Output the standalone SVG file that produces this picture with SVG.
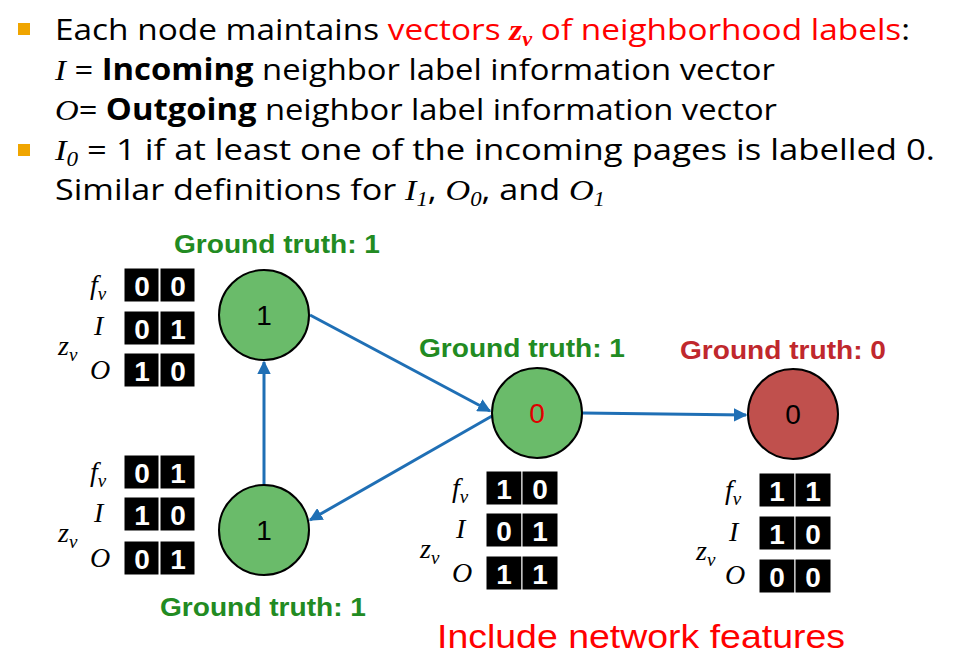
<svg xmlns="http://www.w3.org/2000/svg" width="953" height="661" viewBox="0 0 953 661">
<defs>
<marker id="ah" viewBox="0 0 10 10" refX="9" refY="5" markerWidth="4.5" markerHeight="4.5" orient="auto"><path d="M0,0 L10,5 L0,10 z" fill="#1f6fb5"/></marker>
<style>
.t{font-family:"Open Sans","Noto Sans",sans-serif;font-size:30px;fill:#000}
.m{font-family:"Liberation Serif",serif;font-style:italic}
.r{fill:#ff0000}
.gt{font-family:"Liberation Sans",Arial,sans-serif;font-weight:bold;font-size:26px}
.c{fill:#000;stroke:#fff;stroke-width:1}
.d{font-family:"Liberation Sans",Arial,sans-serif;font-weight:bold;font-size:28px;fill:#fff;text-anchor:middle}
.lb{font-family:"Liberation Serif",serif;font-style:italic;font-size:28px;fill:#000}
.n{stroke:#000;stroke-width:2}
.nl{font-family:"Liberation Sans",Arial,sans-serif;font-size:28px;text-anchor:middle}
.e{stroke:#1f6fb5;stroke-width:3;fill:none;marker-end:url(#ah)}
</style>
</defs>
<rect width="953" height="661" fill="#fff"/>
<g id="text">
<rect x="18" y="23" width="12" height="12" fill="#f0a500"/>
<rect x="18" y="144" width="12" height="12" fill="#f0a500"/>
<text class="t" x="55" y="40" textLength="855" lengthAdjust="spacingAndGlyphs">Each node maintains <tspan class="r">vectors </tspan><tspan class="r m" font-weight="bold">z<tspan font-size="20" dy="6">v</tspan></tspan><tspan class="r" dy="-6"> of neighborhood labels</tspan>:</text>
<text class="t" x="55" y="80" textLength="720" lengthAdjust="spacingAndGlyphs"><tspan class="m">I</tspan> = <tspan font-weight="bold">Incoming</tspan> neighbor label information vector</text>
<text class="t" x="55" y="120" textLength="722" lengthAdjust="spacingAndGlyphs"><tspan class="m">O</tspan>= <tspan font-weight="bold">Outgoing</tspan> neighbor label information vector</text>
<text class="t" x="55" y="160" textLength="880" lengthAdjust="spacingAndGlyphs"><tspan class="m">I<tspan font-size="20" dy="6">0</tspan></tspan><tspan dy="-6"> = 1 if at least one of the incoming pages is labelled 0.</tspan></text>
<text class="t" x="55" y="200" textLength="550" lengthAdjust="spacingAndGlyphs">Similar definitions for <tspan class="m">I<tspan font-size="20" dy="6">1</tspan></tspan><tspan dy="-6">, </tspan><tspan class="m">O<tspan font-size="20" dy="6">0</tspan></tspan><tspan dy="-6">, and </tspan><tspan class="m">O<tspan font-size="20" dy="6">1</tspan></tspan></text>
<text x="437" y="648" font-family="Liberation Sans,Arial,sans-serif" font-size="34" fill="#ff0000" textLength="408" lengthAdjust="spacingAndGlyphs">Include network features</text>
</g>
<g id="connectors">
<path class="e" d="M310,315 L490,411"/>
<path class="e" d="M264,486 L264,362"/>
<path class="e" d="M492,416 L310,520"/>
<path class="e" d="M582,413 L746,415"/>
</g>
<g id="n1">
<circle class="n" cx="264" cy="315" r="45" fill="#6abb6a"/><text class="nl" x="264" y="325">1</text>
<text class="gt" x="174" y="253" fill="#228b22" textLength="206" lengthAdjust="spacingAndGlyphs">Ground truth: 1</text>
<rect class="c" x="124" y="268" width="35" height="34"/><rect class="c" x="160" y="268" width="35" height="34"/>
<rect class="c" x="124" y="311" width="35" height="34"/><rect class="c" x="160" y="311" width="35" height="34"/>
<rect class="c" x="124" y="353" width="35" height="34"/><rect class="c" x="160" y="353" width="35" height="34"/>
<text class="d" x="142" y="296">0</text><text class="d" x="178" y="296">0</text>
<text class="d" x="142" y="339">0</text><text class="d" x="178" y="339">1</text>
<text class="d" x="142" y="381">1</text><text class="d" x="178" y="381">0</text>
<text class="lb" x="90" y="294">f<tspan font-size="19" dy="6">v</tspan></text>
<text class="lb" x="94" y="335">I</text><text class="lb" x="90" y="379">O</text>
<text class="lb" x="58" y="355">z<tspan font-size="19" dy="6">v</tspan></text>
</g>
<g id="n2">
<circle class="n" cx="264" cy="530" r="45" fill="#6abb6a"/><text class="nl" x="264" y="540">1</text>
<text class="gt" x="160" y="616" fill="#228b22" textLength="206" lengthAdjust="spacingAndGlyphs">Ground truth: 1</text>
<rect class="c" x="124" y="455" width="35" height="34"/><rect class="c" x="160" y="455" width="35" height="34"/>
<rect class="c" x="124" y="497" width="35" height="34"/><rect class="c" x="160" y="497" width="35" height="34"/>
<rect class="c" x="124" y="541" width="35" height="34"/><rect class="c" x="160" y="541" width="35" height="34"/>
<text class="d" x="142" y="483">0</text><text class="d" x="178" y="483">1</text>
<text class="d" x="142" y="525">1</text><text class="d" x="178" y="525">0</text>
<text class="d" x="142" y="569">0</text><text class="d" x="178" y="569">1</text>
<text class="lb" x="90" y="481">f<tspan font-size="19" dy="6">v</tspan></text>
<text class="lb" x="94" y="522">I</text><text class="lb" x="90" y="567">O</text>
<text class="lb" x="58" y="542">z<tspan font-size="19" dy="6">v</tspan></text>
</g>
<g id="n3">
<circle class="n" cx="537" cy="413" r="45" fill="#6abb6a"/><text class="nl" x="537" y="423" fill="#e00000">0</text>
<text class="gt" x="419" y="357" fill="#228b22" textLength="206" lengthAdjust="spacingAndGlyphs">Ground truth: 1</text>
<rect class="c" x="486" y="471" width="36" height="34"/><rect class="c" x="522" y="471" width="36" height="34"/>
<rect class="c" x="486" y="513" width="36" height="34"/><rect class="c" x="522" y="513" width="36" height="34"/>
<rect class="c" x="486" y="556" width="36" height="34"/><rect class="c" x="522" y="556" width="36" height="34"/>
<text class="d" x="504" y="499">1</text><text class="d" x="540" y="499">0</text>
<text class="d" x="504" y="541">0</text><text class="d" x="540" y="541">1</text>
<text class="d" x="504" y="584">1</text><text class="d" x="540" y="584">1</text>
<text class="lb" x="452" y="497">f<tspan font-size="19" dy="6">v</tspan></text>
<text class="lb" x="456" y="538">I</text><text class="lb" x="452" y="582">O</text>
<text class="lb" x="420" y="558">z<tspan font-size="19" dy="6">v</tspan></text>
</g>
<g id="n4">
<circle class="n" cx="793" cy="414" r="45" fill="#c0504d"/><text class="nl" x="793" y="424">0</text>
<text class="gt" x="680" y="359" fill="#c0282d" textLength="206" lengthAdjust="spacingAndGlyphs">Ground truth: 0</text>
<rect class="c" x="759" y="473" width="36" height="34"/><rect class="c" x="795" y="473" width="36" height="34"/>
<rect class="c" x="759" y="516" width="36" height="34"/><rect class="c" x="795" y="516" width="36" height="34"/>
<rect class="c" x="759" y="559" width="36" height="34"/><rect class="c" x="795" y="559" width="36" height="34"/>
<text class="d" x="777" y="501">1</text><text class="d" x="813" y="501">1</text>
<text class="d" x="777" y="544">1</text><text class="d" x="813" y="544">0</text>
<text class="d" x="777" y="587">0</text><text class="d" x="813" y="587">0</text>
<text class="lb" x="725" y="499">f<tspan font-size="19" dy="6">v</tspan></text>
<text class="lb" x="729" y="541">I</text><text class="lb" x="725" y="584">O</text>
<text class="lb" x="696" y="560">z<tspan font-size="19" dy="6">v</tspan></text>
</g>
</svg>
